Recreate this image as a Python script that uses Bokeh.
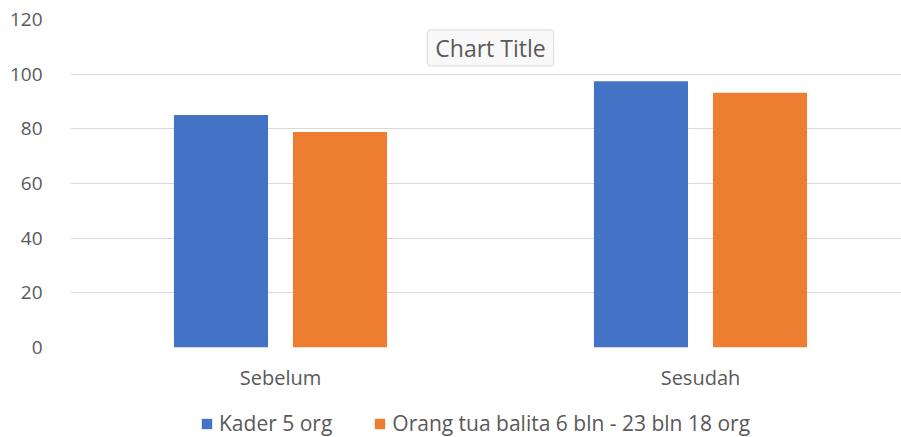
from bokeh.plotting import figure
from bokeh.layouts import column
from bokeh.models import Range1d, FixedTicker, Legend, LegendItem, Label, ColumnDataSource
from bokeh.transform import dodge
from bokeh.embed import file_html
from bokeh.resources import INLINE

categories = ["Sebelum", "Sesudah"]
kader = [85.1, 97.4]
orang_tua = [78.8, 93.2]
series_names = ["Kader 5 org", "Orang tua balita 6 bln - 23 bln 18 org"]
series_fields = ["kader", "orang_tua"]
series_colors = ["#4472C4", "#ED7D31"]
y_ticks = [0, 20, 40, 60, 80, 100, 120]
chart_title = "Chart Title"

x_pos = [i + 0.5 for i in range(len(categories))]
src = ColumnDataSource(data=dict(x=x_pos, kader=kader, orang_tua=orang_tua))

FONT = "Open Sans"
GRAY = "#595959"

p = figure(width=901, height=401, output_backend="svg", toolbar_location=None,
           x_range=Range1d(0, 1.9786), y_range=Range1d(0, 120),
           min_border_left=70, min_border_right=0, min_border_top=19, min_border_bottom=54)
p.outline_line_color = None
p.background_fill_color = "white"
p.border_fill_color = "white"

offsets = [-0.1417, 0.1417]
for f, c, o in zip(series_fields, series_colors, offsets):
    p.vbar(x=dodge("x", o, range=p.x_range), top=f, width=0.224,
           source=src, fill_color=c, line_color=None)

p.xgrid.visible = False
p.ygrid.grid_line_color = "#d9d9d9"
p.ygrid.grid_line_width = 1

p.yaxis.ticker = FixedTicker(ticks=y_ticks)
p.yaxis.axis_line_color = None
p.yaxis.major_tick_line_color = None
p.yaxis.minor_tick_line_color = None
p.yaxis.major_label_standoff = 22
p.yaxis.major_label_text_font = FONT
p.yaxis.major_label_text_font_size = "19px"
p.yaxis.major_label_text_color = GRAY

p.xaxis.ticker = FixedTicker(ticks=x_pos)
p.xaxis.major_label_overrides = dict(zip(x_pos, categories))
p.xaxis.axis_line_color = None
p.xaxis.major_tick_line_color = None
p.xaxis.minor_tick_line_color = None
p.xaxis.major_label_standoff = 10
p.xaxis.major_label_text_font = FONT
p.xaxis.major_label_text_font_size = "20px"
p.xaxis.major_label_text_color = GRAY

pad = dict(left=8, right=8, top=2, bottom=2)
shadow = Label(x=1.0, y=109.6, text=chart_title, text_align="center", text_baseline="middle",
               text_font=FONT, text_font_size="23px", text_alpha=0,
               background_fill_color="#8c8c8c", background_fill_alpha=0.6,
               border_radius=3, padding=pad, x_offset=3, y_offset=-3)
title = Label(x=1.0, y=109.6, text=chart_title, text_align="center", text_baseline="middle",
              text_font=FONT, text_font_size="23px", text_color=GRAY,
              background_fill_color="#f9f9f9", border_line_color="#d9d9d9",
              border_radius=3, padding=pad)
p.add_layout(shadow)
p.add_layout(title)

# legend strip below the chart; its renderers use the same data but fall outside its ranges
pl = figure(width=901, height=36, output_backend="svg", toolbar_location=None,
            x_axis_type=None, y_axis_type=None,
            x_range=Range1d(10, 11), y_range=Range1d(-20, -10),
            min_border_left=70, min_border_right=0, min_border_top=0, min_border_bottom=0)
pl.grid.visible = False
pl.outline_line_color = None
pl.border_fill_color = "white"
pl.background_fill_color = "white"
leg_r = [pl.vbar(x="x", top=f, width=0.2, source=src, fill_color=c, line_color=None)
         for f, c in zip(series_fields, series_colors)]
legend = Legend(items=[LegendItem(label=n, renderers=[r]) for n, r in zip(series_names, leg_r)],
                orientation="horizontal", location=(130, 0),
                glyph_width=13, glyph_height=13, label_standoff=6, spacing=41,
                padding=0, margin=0, border_line_color=None, background_fill_alpha=0,
                label_text_font=FONT, label_text_font_size="21px", label_text_color=GRAY)
pl.add_layout(legend, "center")

layout = column(p, pl, spacing=0)
open("out.html", "w").write(file_html(layout, INLINE))
